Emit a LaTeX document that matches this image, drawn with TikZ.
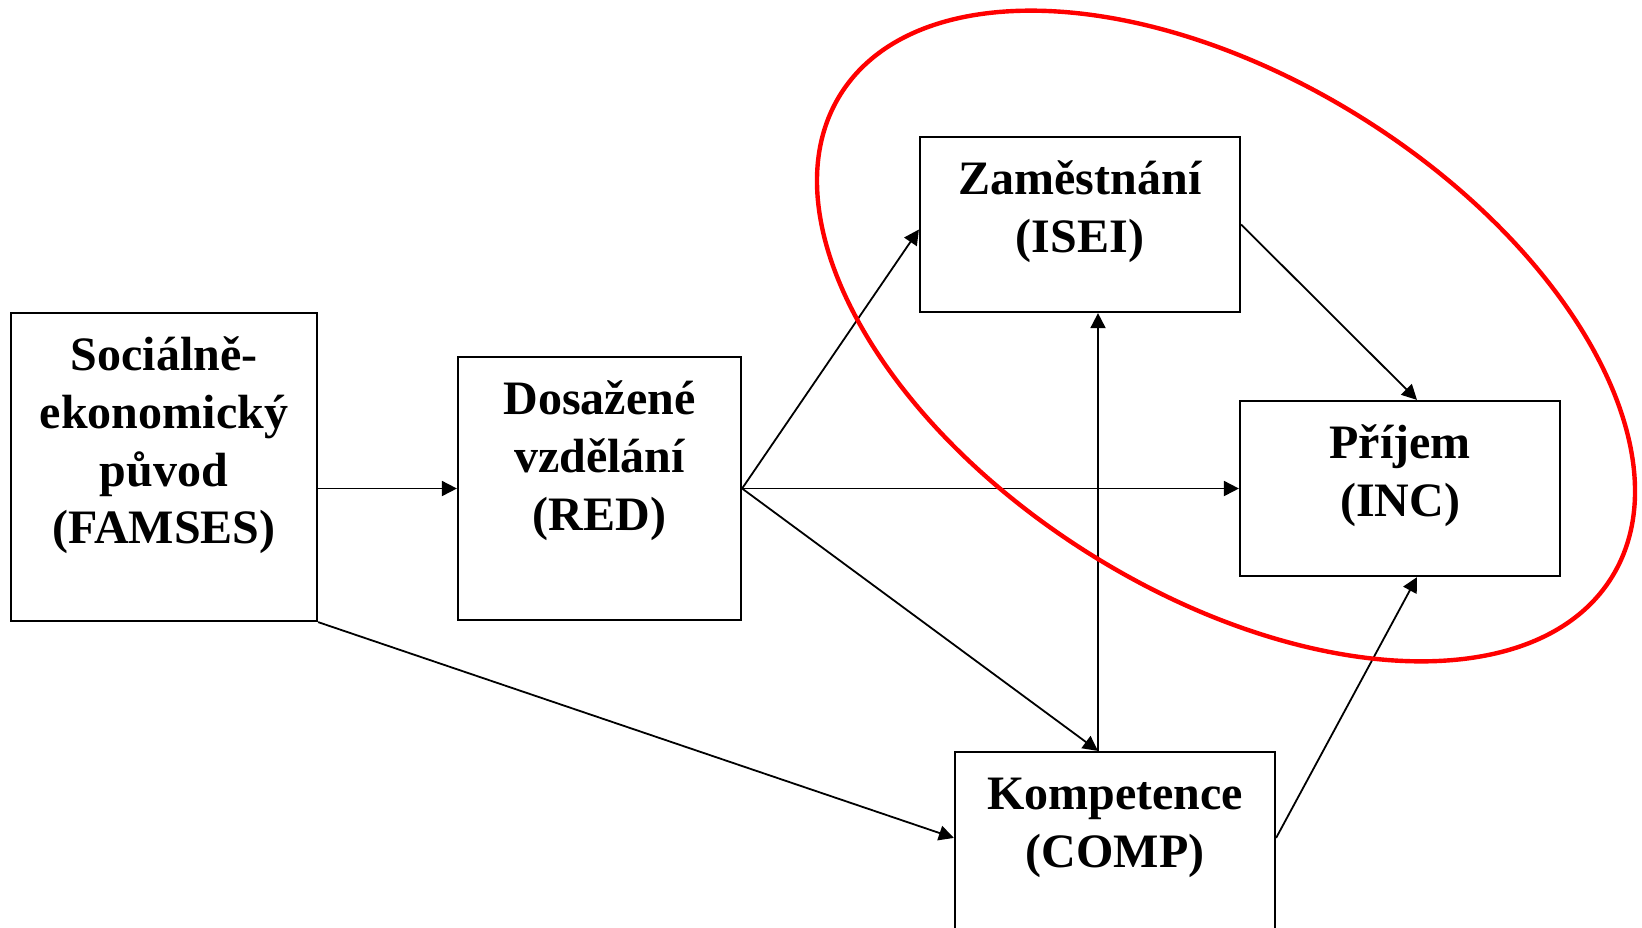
\documentclass[tikz,border=0pt]{standalone}
\usepackage{fontspec}
\setmainfont{Liberation Serif}
\usetikzlibrary{arrows.meta,calc}
\begin{document}
\begin{tikzpicture}[x=0.5pt,y=-0.5pt,
  box/.style={draw=black, line width=1.1pt, rectangle, inner sep=0pt},
  lbl/.style={anchor=north, inner sep=0pt, align=center, font=\fontsize{24}{28.8}\selectfont\bfseries},
  arr/.style={draw=black, line width=0.9pt, -{Triangle[length=7.5pt,width=7.5pt]}},
  ring/.style={draw=red, line width=2.2pt}]
\clip (0,0) rectangle (1642,927);
\fill[white] (0,0) rectangle (1642,927);
% boxes
\node[box, minimum width=153pt, minimum height=154pt] (famses) at (164,467) {};
\node[box, minimum width=141.5pt, minimum height=131.5pt] (red) at (599.5,488.5) {};
\node[box, minimum width=160pt, minimum height=87.5pt] (isei) at (1080,224.5) {};
\node[box, minimum width=160pt, minimum height=87.5pt] (inc) at (1400,488.5) {};
\node[box, minimum width=160pt, minimum height=104pt] (comp) at (1115,856) {};
% labels
\node[lbl] (famsesT) at ($(famses.north)+(0,14.5)$) {\rule{0pt}{22pt}Sociálně-\\ekonomický\\původ\\(FAMSES)};
\node[lbl] (redT) at ($(red.north)+(0,14.5)$) {\rule{0pt}{22pt}Dosažené\\vzdělání\\(RED)};
\node[lbl] (iseiT) at ($(isei.north)+(0,14.5)$) {\rule{0pt}{22pt}Zaměstnání\\(ISEI)};
\node[lbl] (incT) at ($(inc.north)+(0,14.5)$) {\rule{0pt}{22pt}Příjem\\(INC)};
\node[lbl] (compT) at ($(comp.north)+(0,14.5)$) {\rule{0pt}{22pt}Kompetence\\(COMP)};
% connectors
\coordinate (ct) at ($(comp.north)+(-17,0)$);
\coordinate (cl) at ($(comp.north west)+(0,87)$);
\coordinate (cr) at ($(comp.north east)+(0,87)$);
\draw[arr] (famses.east |- red.west) -- (red.west);
\draw[arr] (red.east) -- ($(isei.west)+(0,5)$);
\draw[arr] (red.east) -- (inc.west);
\draw[arr] (red.east) -- (ct);
\draw[arr] (ct) -- (ct |- isei.south);
\draw[arr] (famses.south east) -- (cl);
\draw[arr] (cr) -- ($(inc.south)+(17,0)$);
\draw[arr] (isei.east) -- ($(inc.north)+(17,0)$);
% red ellipse
\draw[ring, rotate around={-32.1:(1226,336)}] (1226,336) ellipse [x radius=455, y radius=257];
\end{tikzpicture}
\end{document}
